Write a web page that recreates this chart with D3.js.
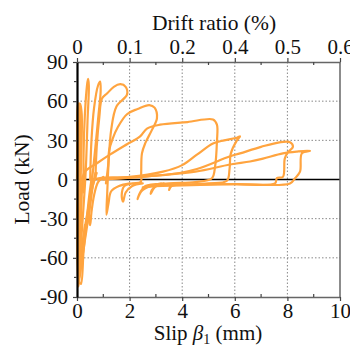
<!DOCTYPE html>
<html>
<head>
<meta charset="utf-8">
<script src="https://cdn.jsdelivr.net/npm/d3@7"></script>
<style>
  body { margin: 0; background: #fff; }
  svg { display: block; }
  text { font-family: "Liberation Serif", "Times New Roman", serif; fill: #111; }
</style>
</head>
<body>
<div id="chart"></div>
<script>
// slip ticks (bottom) and drift ratio labels (top), same positions
const slipTicks = [0, 2, 4, 6, 8, 10];
const driftLabels = ["0", "0.1", "0.2", "0.4", "0.5", "0.6"];
const loadTicks = [-90, -60, -30, 0, 30, 60, 90];

// hysteresis cycles, [slip mm, load kN]
const spike1 = [[0, 0], [0.02, 30], [0.05, 58], [0.1, 58], [0.08, 20], [0.05, -20], [0.03, -55], [0.05, -72], [0.1, -60], [0.15, -30], [0.2, 0]];
const spike2 = [[0.15, 0], [0.1, 35], [0.12, 58], [0.18, 50], [0.15, 10], [0.1, -40], [0.08, -78], [0.15, -80], [0.25, -55], [0.35, -35], [0.45, -15], [0.55, 0]];
const spike3 = [[0.05, 0], [0.02, -30], [0.02, -65], [0.06, -82], [0.2, -50], [0.4, -25], [0.6, -5], [0.75, 5]];
const spike4 = [[0, -30], [0.03, 0], [0.02, 40], [0.04, 58], [0.08, 45], [0.06, 0], [0.04, -50], [0.1, -70], [0.3, -35]];
const cycle1 = [[0.25, -10], [0.25, 20], [0.3, 50], [0.38, 72], [0.42, 77], [0.45, 72], [0.4, 45], [0.35, 15], [0.3, -5], [0.2, -35], [0.12, -60], [0.1, -75], [0.2, -60], [0.35, -40], [0.5, -20], [0.6, -5], [0.7, 5]];
const cycle2 = [[0.5, 0], [0.55, 30], [0.65, 55], [0.8, 72], [0.88, 75], [0.9, 68], [0.82, 50], [0.7, 25], [0.6, 5], [0.5, -15], [0.45, -30], [0.5, -35], [0.55, -25], [0.65, -12], [0.8, -2], [1.0, 2]];
const cycle3 = [[0.7, 0], [0.75, 25], [0.85, 48], [0.95, 62], [1.15, 66], [1.4, 71], [1.65, 73], [1.85, 71], [1.9, 65], [1.5, 56], [1.3, 38], [1.2, 12], [1.15, -10], [1.12, -27], [1.2, -18], [1.3, -9], [1.6, -5], [2.0, -3]];
const cycle4 = [[1.1, -3], [1.18, 10], [1.22, 22], [1.35, 31], [1.55, 40], [1.9, 50], [2.3, 54], [2.75, 57], [2.95, 55], [3.04, 47], [2.85, 38], [2.6, 28], [2.47, 20], [2.44, 5], [2.42, -2], [2.1, -3], [1.8, -5], [1.7, -12], [1.75, -17], [1.85, -10], [2.1, -5], [2.5, -3]];
const cycle5 = [[0.2, 0], [0.3, 6], [0.8, 13], [1.25, 19], [1.9, 27], [2.4, 33], [2.66, 39], [3.16, 42], [4.2, 44], [5.17, 46], [5.32, 42], [5.32, 29], [5.25, 10], [5.13, 1], [4.5, -2], [3.5, -3], [2.6, -5], [2.4, -10], [2.3, -15], [2.45, -9], [2.8, -5], [3.2, -3]];
const cycle6 = [[0.6, 0], [1.0, 1.5], [2.0, 2], [3.27, 6], [4.0, 11], [4.56, 19], [5.17, 27.6], [5.6, 30], [6.08, 32], [6.2, 33], [6.08, 30], [5.85, 20], [5.8, 8], [5.7, -1], [5.0, -3], [4.0, -4], [3.0, -5], [2.85, -8], [2.8, -11], [2.95, -6], [3.3, -3]];
const cycle7 = [[0.8, 0], [2.0, 1.5], [3.0, 3], [3.9, 5], [4.56, 8], [5.8, 17.6], [6.2, 20], [7.0, 25], [7.7, 28.5], [8.1, 28.5], [8.21, 25], [8.02, 21], [7.9, 16], [7.83, 2], [7.6, 1], [7.53, -3], [6.0, -3.5], [4.5, -4], [3.6, -5], [3.5, -8], [3.6, -4], [4.0, -3]];
const cycle8 = [[1.0, 0], [3.0, 3], [4.5, 6], [5.82, 11.5], [6.58, 13.8], [7.07, 16], [7.83, 20], [8.37, 21.4], [8.86, 22], [8.55, 20], [8.48, 6], [8.29, 1], [8.1, -3], [6.0, -3.5], [4.0, -4.5], [3.0, -5], [2.5, -6]];
const cycles = [spike1, spike2, spike3, spike4, cycle1, cycle2, cycle3, cycle4, cycle5, cycle6, cycle7, cycle8];

const width = 350, height = 349;
const margin = {top: 62, right: 10, bottom: 52, left: 77};

const svg = d3.select("#chart").append("svg")
    .attr("width", width)
    .attr("height", height);

const x = d3.scaleLinear().domain([0, 10]).range([margin.left, width - margin.right]);
const y = d3.scaleLinear().domain([-90, 90]).range([height - margin.bottom, margin.top]);

// grid
const grid = svg.append("g")
    .attr("stroke", "#888")
    .attr("stroke-width", 1)
    .attr("stroke-dasharray", "1.5,2");
grid.selectAll(".gx").data([2, 4, 6, 8]).enter().append("line")
    .attr("x1", d => x(d)).attr("x2", d => x(d))
    .attr("y1", y(90)).attr("y2", y(-90));
grid.selectAll(".gy").data([-60, -30, 30, 60]).enter().append("line")
    .attr("x1", x(0)).attr("x2", x(10))
    .attr("y1", d => y(d)).attr("y2", d => y(d));

// zero load line
svg.append("line")
    .attr("x1", x(0)).attr("x2", x(10))
    .attr("y1", y(0)).attr("y2", y(0))
    .attr("stroke", "#000").attr("stroke-width", 1.5);

const line = d3.line()
    .x(d => x(d[0]))
    .y(d => y(d[1]))
    .curve(d3.curveCatmullRom.alpha(0.5));

svg.append("g").selectAll("path").data(cycles).enter().append("path")
    .attr("d", line)
    .attr("fill", "none")
    .attr("stroke", "#ffa43f")
    .attr("stroke-width", 2.2)
    .attr("stroke-linejoin", "round")
    .attr("stroke-linecap", "round");

// axes
function styleAxis(g, color, w) {
    g.select(".domain").attr("stroke", color).attr("stroke-width", w);
    g.selectAll(".tick line").attr("stroke", "#444").attr("stroke-width", 1.2);
    g.selectAll(".tick text").attr("font-size", 21).attr("fill", "#111")
        .style("font-family", "'Liberation Serif', serif");
}

const minorX = d3.range(1, 10, 2);
const minorY = d3.range(-75, 90, 30);

const bottomAxis = svg.append("g")
    .attr("transform", `translate(0,${y(-90)})`)
    .call(d3.axisBottom(x).tickValues(slipTicks).tickSize(4).tickSizeOuter(0).tickPadding(2));
styleAxis(bottomAxis, "#666", 1.5);
bottomAxis.selectAll(".minor").data(minorX).enter().append("line")
    .attr("x1", d => x(d)).attr("x2", d => x(d)).attr("y1", 0).attr("y2", -3)
    .attr("stroke", "#444").attr("stroke-width", 1.2);

const topAxis = svg.append("g")
    .attr("transform", `translate(0,${y(90)})`)
    .call(d3.axisTop(x).tickValues(slipTicks).tickSize(4).tickSizeOuter(0).tickPadding(4)
        .tickFormat((d, i) => driftLabels[i]));
styleAxis(topAxis, "#666", 1.5);
topAxis.selectAll(".minor").data(minorX).enter().append("line")
    .attr("x1", d => x(d)).attr("x2", d => x(d)).attr("y1", 0).attr("y2", 3)
    .attr("stroke", "#444").attr("stroke-width", 1.2);

svg.append("line")
    .attr("x1", x(10)).attr("x2", x(10))
    .attr("y1", y(90)).attr("y2", y(-90))
    .attr("stroke", "#666").attr("stroke-width", 1.5);

const leftAxis = svg.append("g")
    .attr("transform", `translate(${x(0)},0)`)
    .call(d3.axisLeft(y).tickValues(loadTicks).tickSize(4).tickSizeOuter(0).tickPadding(5)
        .tickFormat(d => String(d)));
styleAxis(leftAxis, "#000", 2.2);
leftAxis.selectAll(".minor").data(minorY).enter().append("line")
    .attr("x1", 0).attr("x2", -3).attr("y1", d => y(d)).attr("y2", d => y(d))
    .attr("stroke", "#444").attr("stroke-width", 1.2);

// titles
svg.append("text")
    .attr("x", 214).attr("y", 30)
    .attr("text-anchor", "middle").attr("font-size", 21.5)
    .text("Drift ratio (%)");

const xt = svg.append("text")
    .attr("x", 208).attr("y", 340)
    .attr("text-anchor", "middle").attr("font-size", 21);
xt.append("tspan").text("Slip ");
xt.append("tspan").attr("font-style", "italic").text("β");
xt.append("tspan").attr("font-size", 14).attr("dy", 4).text("1");
xt.append("tspan").attr("dy", -4).text(" (mm)");

svg.append("text")
    .attr("transform", `translate(29,${y(0)}) rotate(-90)`)
    .attr("text-anchor", "middle").attr("font-size", 21.5)
    .text("Load (kN)");
</script>
</body>
</html>
